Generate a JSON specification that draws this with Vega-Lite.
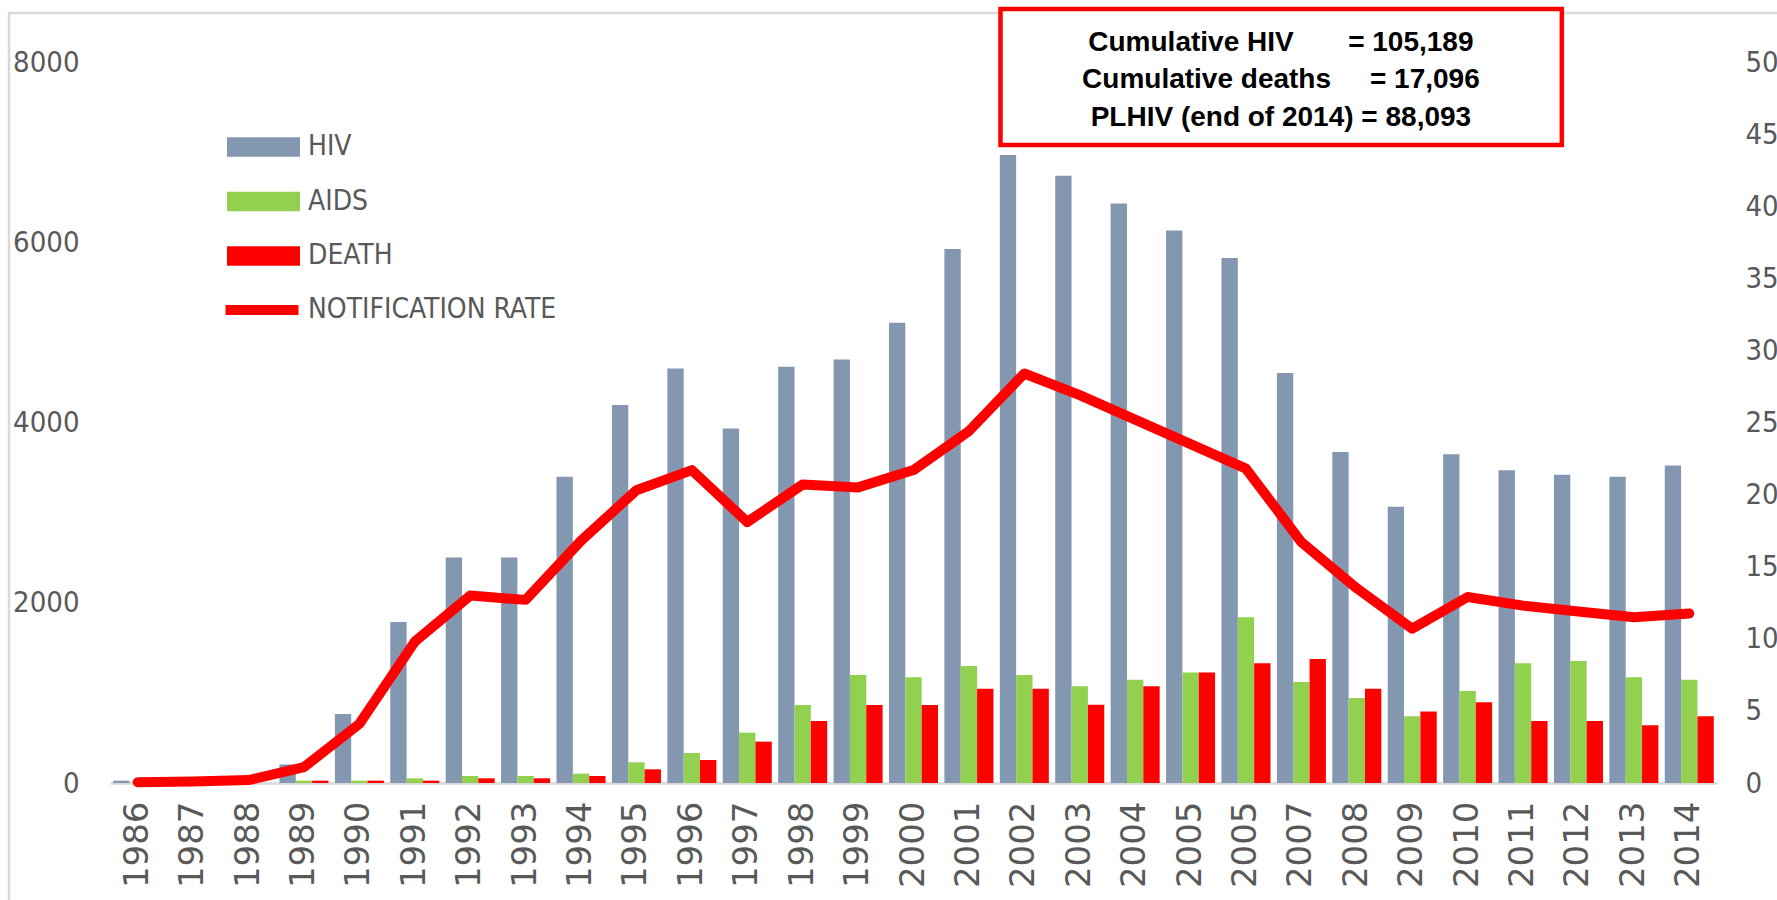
{
  "$schema": "https://vega.github.io/schema/vega-lite/v6.json",
  "width": 1607,
  "height": 721,
  "autosize": {"type": "none"},
  "padding": {"left": 110, "top": 62, "right": 60, "bottom": 117},
  "background": "#FFFFFF",
  "config": {"view": {"stroke": null}},
  "datasets": {
    "bars": [
      {"year": "1986", "series": "HIV", "value": 26}, {"year": "1986", "series": "AIDS", "value": 5}, {"year": "1986", "series": "DEATH", "value": 0},
      {"year": "1987", "series": "HIV", "value": 0}, {"year": "1987", "series": "AIDS", "value": 0}, {"year": "1987", "series": "DEATH", "value": 0},
      {"year": "1988", "series": "HIV", "value": 0}, {"year": "1988", "series": "AIDS", "value": 0}, {"year": "1988", "series": "DEATH", "value": 0},
      {"year": "1989", "series": "HIV", "value": 204}, {"year": "1989", "series": "AIDS", "value": 26}, {"year": "1989", "series": "DEATH", "value": 26},
      {"year": "1990", "series": "HIV", "value": 766}, {"year": "1990", "series": "AIDS", "value": 26}, {"year": "1990", "series": "DEATH", "value": 26},
      {"year": "1991", "series": "HIV", "value": 1787}, {"year": "1991", "series": "AIDS", "value": 52}, {"year": "1991", "series": "DEATH", "value": 26},
      {"year": "1992", "series": "HIV", "value": 2502}, {"year": "1992", "series": "AIDS", "value": 78}, {"year": "1992", "series": "DEATH", "value": 52},
      {"year": "1993", "series": "HIV", "value": 2502}, {"year": "1993", "series": "AIDS", "value": 78}, {"year": "1993", "series": "DEATH", "value": 52},
      {"year": "1994", "series": "HIV", "value": 3397}, {"year": "1994", "series": "AIDS", "value": 104}, {"year": "1994", "series": "DEATH", "value": 78},
      {"year": "1995", "series": "HIV", "value": 4193}, {"year": "1995", "series": "AIDS", "value": 230}, {"year": "1995", "series": "DEATH", "value": 152},
      {"year": "1996", "series": "HIV", "value": 4600}, {"year": "1996", "series": "AIDS", "value": 333}, {"year": "1996", "series": "DEATH", "value": 255},
      {"year": "1997", "series": "HIV", "value": 3934}, {"year": "1997", "series": "AIDS", "value": 559}, {"year": "1997", "series": "DEATH", "value": 459},
      {"year": "1998", "series": "HIV", "value": 4618}, {"year": "1998", "series": "AIDS", "value": 866}, {"year": "1998", "series": "DEATH", "value": 688},
      {"year": "1999", "series": "HIV", "value": 4700}, {"year": "1999", "series": "AIDS", "value": 1199}, {"year": "1999", "series": "DEATH", "value": 866},
      {"year": "2000", "series": "HIV", "value": 5106}, {"year": "2000", "series": "AIDS", "value": 1173}, {"year": "2000", "series": "DEATH", "value": 866},
      {"year": "2001", "series": "HIV", "value": 5924}, {"year": "2001", "series": "AIDS", "value": 1299}, {"year": "2001", "series": "DEATH", "value": 1047},
      {"year": "2002", "series": "HIV", "value": 6967}, {"year": "2002", "series": "AIDS", "value": 1199}, {"year": "2002", "series": "DEATH", "value": 1047},
      {"year": "2003", "series": "HIV", "value": 6738}, {"year": "2003", "series": "AIDS", "value": 1073}, {"year": "2003", "series": "DEATH", "value": 869},
      {"year": "2004", "series": "HIV", "value": 6431}, {"year": "2004", "series": "AIDS", "value": 1147}, {"year": "2004", "series": "DEATH", "value": 1073},
      {"year": "2005", "series": "HIV", "value": 6131}, {"year": "2005", "series": "AIDS", "value": 1225}, {"year": "2005", "series": "DEATH", "value": 1225},
      {"year": "2006", "series": "HIV", "value": 5824}, {"year": "2006", "series": "AIDS", "value": 1839}, {"year": "2006", "series": "DEATH", "value": 1328},
      {"year": "2007", "series": "HIV", "value": 4548}, {"year": "2007", "series": "AIDS", "value": 1121}, {"year": "2007", "series": "DEATH", "value": 1376},
      {"year": "2008", "series": "HIV", "value": 3674}, {"year": "2008", "series": "AIDS", "value": 943}, {"year": "2008", "series": "DEATH", "value": 1047},
      {"year": "2009", "series": "HIV", "value": 3064}, {"year": "2009", "series": "AIDS", "value": 740}, {"year": "2009", "series": "DEATH", "value": 792},
      {"year": "2010", "series": "HIV", "value": 3649}, {"year": "2010", "series": "AIDS", "value": 1021}, {"year": "2010", "series": "DEATH", "value": 896},
      {"year": "2011", "series": "HIV", "value": 3471}, {"year": "2011", "series": "AIDS", "value": 1328}, {"year": "2011", "series": "DEATH", "value": 688},
      {"year": "2012", "series": "HIV", "value": 3419}, {"year": "2012", "series": "AIDS", "value": 1354}, {"year": "2012", "series": "DEATH", "value": 688},
      {"year": "2013", "series": "HIV", "value": 3397}, {"year": "2013", "series": "AIDS", "value": 1173}, {"year": "2013", "series": "DEATH", "value": 640},
      {"year": "2014", "series": "HIV", "value": 3523}, {"year": "2014", "series": "AIDS", "value": 1147}, {"year": "2014", "series": "DEATH", "value": 740}
    ],
    "rate": [
      {"year": "1986", "rate": 0.05}, {"year": "1987", "rate": 0.1}, {"year": "1988", "rate": 0.2},
      {"year": "1989", "rate": 1.1}, {"year": "1990", "rate": 4.1}, {"year": "1991", "rate": 9.8},
      {"year": "1992", "rate": 13.0}, {"year": "1993", "rate": 12.7}, {"year": "1994", "rate": 16.8},
      {"year": "1995", "rate": 20.3}, {"year": "1996", "rate": 21.7}, {"year": "1997", "rate": 18.1},
      {"year": "1998", "rate": 20.7}, {"year": "1999", "rate": 20.5}, {"year": "2000", "rate": 21.7},
      {"year": "2001", "rate": 24.4}, {"year": "2002", "rate": 28.4}, {"year": "2003", "rate": 26.9},
      {"year": "2004", "rate": 25.2}, {"year": "2005", "rate": 23.5}, {"year": "2006", "rate": 21.8},
      {"year": "2007", "rate": 16.7}, {"year": "2008", "rate": 13.5}, {"year": "2009", "rate": 10.7},
      {"year": "2010", "rate": 12.9}, {"year": "2011", "rate": 12.3}, {"year": "2012", "rate": 11.9},
      {"year": "2013", "rate": 11.5}, {"year": "2014", "rate": 11.75}
    ]
  },
  "layer": [
    {
      "data": {"values": [{}]},
      "mark": {"type": "rect", "fill": null, "stroke": "#D9D9D9", "strokeWidth": 2.5},
      "encoding": {
        "x": {"datum": -1.823, "type": "quantitative", "scale": {"domain": [0, 29], "nice": false, "zero": false}, "axis": null},
        "x2": {"datum": 40},
        "y": {"datum": 8544, "type": "quantitative", "scale": {"domain": [0, 8000], "nice": false}, "axis": null},
        "y2": {"datum": -3000}
      }
    },
    {
      "data": {"name": "bars"},
      "mark": {"type": "bar"},
      "encoding": {
        "x": {
          "field": "year", "type": "nominal", "sort": null,
          "scale": {"paddingInner": 0.1155, "paddingOuter": 0.0578},
          "axis": {
            "title": null, "labelAngle": -90, "labelExpr": "datum.value == '2006' ? '2005' : datum.value",
            "labelFont": "DejaVu Sans", "labelFontSize": 34, "labelColor": "#595959", "labelPadding": 18,
            "ticks": false, "domainColor": "#D9D9D9", "domainWidth": 2.5, "labelOverlap": false, "grid": false
          }
        },
        "xOffset": {"field": "series", "type": "nominal", "sort": ["HIV", "AIDS", "DEATH"]},
        "y": {
          "field": "value", "type": "quantitative",
          "scale": {"domain": [0, 8000], "nice": false},
          "axis": {
            "title": null, "orient": "left", "values": [0, 2000, 4000, 6000, 8000], "format": "d", "grid": false, "domain": false, "ticks": false,
            "labelFont": "DejaVu Sans Condensed, Liberation Sans Narrow, sans-serif", "labelFontSize": 29,
            "labelColor": "#595959", "labelPadding": 31
          }
        },
        "color": {
          "field": "series", "type": "nominal",
          "scale": {"domain": ["HIV", "AIDS", "DEATH"], "range": ["#8497B0", "#92D050", "#FF0000"]},
          "legend": {
            "orient": "none", "legendX": 117, "legendY": 48.5, "title": null, "padding": 0,
            "symbolType": "M-1,-0.27H1V0.27H-1Z", "symbolSize": 5329, "symbolStrokeWidth": 0, "symbolOpacity": 1,
            "labelFont": "DejaVu Sans Condensed, Liberation Sans Narrow, sans-serif", "labelFontSize": 28, "labelLimit": 500,
            "labelColor": "#595959", "labelOffset": 8, "rowPadding": 3.5
          }
        }
      }
    },
    {
      "data": {"name": "rate"},
      "mark": {"type": "line", "strokeWidth": 10, "strokeCap": "round", "strokeJoin": "round"},
      "encoding": {
        "x": {"field": "year", "type": "nominal", "sort": null, "scale": {"paddingInner": 0.1155, "paddingOuter": 0.0578}, "axis": null},
        "y": {
          "field": "rate", "type": "quantitative",
          "scale": {"domain": [0, 50], "nice": false},
          "axis": {
            "title": null, "orient": "right", "values": [0, 5, 10, 15, 20, 25, 30, 35, 40, 45, 50], "grid": false, "domain": false, "ticks": false,
            "labelFont": "DejaVu Sans Condensed, Liberation Sans Narrow, sans-serif", "labelFontSize": 29,
            "labelColor": "#595959", "labelPadding": 28
          }
        },
        "stroke": {
          "datum": "NOTIFICATION RATE", "type": "nominal",
          "scale": {"range": ["#FF0000"]},
          "legend": {
            "orient": "none", "legendX": 110.5, "legendY": 206.5, "title": null, "padding": 0,
            "symbolType": "stroke", "symbolSize": 5329, "symbolStrokeWidth": 10,
            "labelFont": "DejaVu Sans Condensed, Liberation Sans Narrow, sans-serif", "labelFontSize": 28, "labelLimit": 500,
            "labelColor": "#595959", "labelOffset": 4.5
          }
        }
      }
    },
    {
      "data": {"values": [{}]},
      "mark": {"type": "rect", "fill": "#FFFFFF", "stroke": "#FF0000", "strokeWidth": 4.5},
      "encoding": {
        "x": {"datum": 16.07, "type": "quantitative", "scale": {"domain": [0, 29], "nice": false, "zero": false}, "axis": null},
        "x2": {"datum": 26.2},
        "y": {"datum": 8588, "type": "quantitative", "scale": {"domain": [0, 8000], "nice": false}, "axis": null},
        "y2": {"datum": 7079}
      }
    },
    {
      "data": {"values": [{}]},
      "mark": {
        "type": "text", "font": "Liberation Sans, Arial, sans-serif", "fontWeight": "bold", "fontSize": 28,
        "color": "#000000", "align": "center", "baseline": "middle", "lineHeight": 37.5,
        "text": ["Cumulative HIV\u00a0\u00a0\u00a0\u00a0\u00a0\u00a0\u00a0= 105,189", "Cumulative deaths\u00a0\u00a0\u00a0\u00a0\u00a0= 17,096", "PLHIV (end of 2014) = 88,093"]
      },
      "encoding": {
        "x": {"datum": 21.13, "type": "quantitative", "scale": {"domain": [0, 29], "nice": false, "zero": false}, "axis": null},
        "y": {"datum": 8211, "type": "quantitative", "scale": {"domain": [0, 8000], "nice": false}, "axis": null}
      }
    }
  ],
  "resolve": {"scale": {"x": "independent", "y": "independent"}}
}
